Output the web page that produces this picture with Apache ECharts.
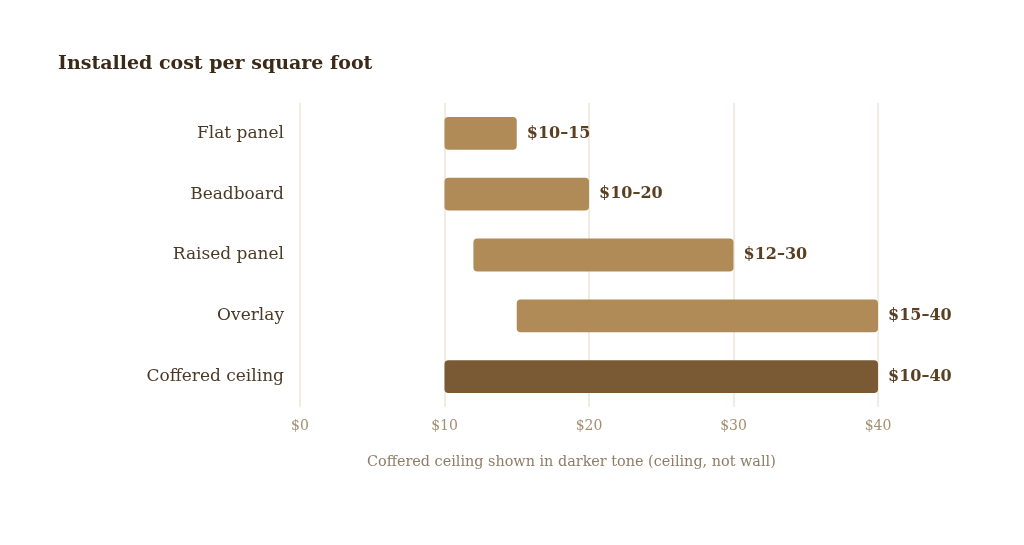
<!DOCTYPE html>
<html>
<head>
<meta charset="utf-8">
<script src="https://cdn.jsdelivr.net/npm/echarts@6/dist/echarts.min.js"></script>
<style>
  html, body { margin: 0; padding: 0; background: #fff; }
  #chart { width: 1024px; height: 545px; }
</style>
</head>
<body>
<div id="chart"></div>
<script>
// finishes, top to bottom
var categories = ['Flat panel', 'Beadboard', 'Raised panel', 'Overlay', 'Coffered ceiling'];
var lows = [10, 10, 12, 15, 10];
var highs = [15, 20, 30, 40, 40];
var ticks = [0, 10, 20, 30, 40];

var FONT = 'Georgia, "DejaVu Serif", serif';
var light = '#b08b57';
var dark = '#7a5a34';

var chart = echarts.init(document.getElementById('chart'));

// invisible base + visible range on top
var base = lows.slice();
var span = highs.map(function(h, i) { return h - lows[i]; });

var option = {
  backgroundColor: '#ffffff',
  animation: false,
  title: {
    text: 'Installed cost per square foot',
    left: 53,
    top: 50,
    textStyle: { fontFamily: FONT, fontSize: 19, fontWeight: 'bold', color: '#3b2a18' }
  },
  grid: { left: 300, right: 146, top: 103, bottom: 138 },
  xAxis: {
    type: 'value',
    min: ticks[0],
    max: ticks[ticks.length - 1],
    interval: 10,
    axisLine: { show: false },
    axisTick: { show: false },
    splitLine: { lineStyle: { color: '#ece4d6', width: 1.5 } },
    axisLabel: {
      margin: 12,
      color: '#a38f73',
      fontFamily: FONT,
      fontSize: 14,
      formatter: function(v) { return '$' + v; }
    }
  },
  yAxis: {
    type: 'category',
    data: categories,
    inverse: true,
    axisLine: { show: false },
    axisTick: { show: false },
    axisLabel: { margin: 16, color: '#4b3926', fontFamily: FONT, fontSize: 17 }
  },
  series: [
    {
      type: 'bar',
      stack: 'r',
      data: base,
      barWidth: '54%',
      itemStyle: { color: 'transparent' },
      silent: true
    },
    {
      type: 'bar',
      stack: 'r',
      barWidth: '54%',
      data: span.map(function(s, i) {
        return {
          value: s,
          itemStyle: { color: categories[i] === 'Coffered ceiling' ? dark : light }
        };
      }),
      itemStyle: { borderRadius: 4 },
      label: {
        show: true,
        position: 'right',
        distance: 10,
        fontFamily: FONT,
        fontSize: 16,
        fontWeight: 'bold',
        color: '#5a3f22',
        formatter: function(p) {
          return '$' + lows[p.dataIndex] + '\u2013' + highs[p.dataIndex];
        }
      }
    }
  ],
  graphic: [{
    type: 'text',
    left: 367,
    top: 455,
    style: {
      text: 'Coffered ceiling shown in darker tone (ceiling, not wall)',
      font: '14.4px ' + FONT,
      fill: '#8e7c66'
    }
  }]
};

chart.setOption(option);
</script>
</body>
</html>
